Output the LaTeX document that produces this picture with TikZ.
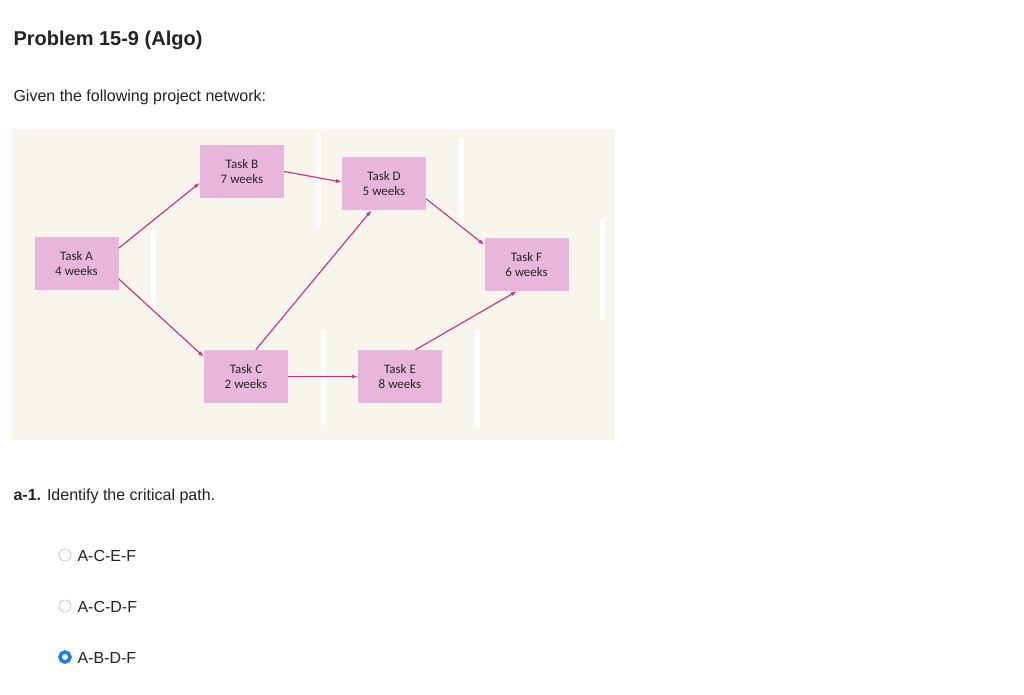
\documentclass[tikz,border=0pt]{standalone}
\usepackage{fontspec}
\setmainfont{Liberation Sans}
\newfontfamily\taskfont{Carlito}
\usetikzlibrary{arrows.meta}
\definecolor{cream}{HTML}{F8F6EC}
\definecolor{boxpink}{HTML}{E7B6DA}
\definecolor{arr}{HTML}{D6297A}
\definecolor{txt}{HTML}{222222}
\definecolor{blu}{HTML}{1A7FE8}
\tikzset{
  task/.style={fill=boxpink, minimum width=84pt, minimum height=53pt, align=center, font=\taskfont\fontsize{13}{15}\selectfont, text=black!85, inner sep=0pt},
  link/.style={draw=arr, line width=1.1pt, -{Latex[length=6pt,width=4pt]}},
  stripe/.style={fill=white, draw=none},
  opt/.style={font=\fontsize{16}{18}\selectfont, text=txt, anchor=west},
}
\begin{document}
\begin{tikzpicture}[x=1pt,y=-1pt]
\useasboundingbox (0,0) rectangle (1024,694);
\fill[white] (0,0) rectangle (1024,694);
\node[anchor=west, font=\bfseries\fontsize{20}{24}\selectfont, text=txt] (title) at (10,40) {Problem 15-9 (Algo)};
\node[anchor=west, font=\fontsize{16}{18}\selectfont, text=txt] (given) at (10,97) {Given the following project network:};
\fill[cream] (12,129) rectangle (615,440);
\fill[stripe] (151,230) rectangle (156,310);
\fill[stripe] (316,133) rectangle (321,228);
\fill[stripe] (459,138) rectangle (464,230);
\fill[stripe] (600,218) rectangle (605,320);
\fill[stripe] (321,330) rectangle (326,425);
\fill[stripe] (475,330) rectangle (480,428);
\node[task] (A) at (76.5,263.5) {Task A\\4 weeks};
\node[task] (B) at (242,171.5) {Task B\\7 weeks};
\node[task] (D) at (384,183.5) {Task D\\5 weeks};
\node[task] (F) at (526.5,264.5) {Task F\\6 weeks};
\node[task] (C) at (246,376.5) {Task C\\2 weeks};
\node[task] (E) at (400,376.5) {Task E\\8 weeks};
\draw[link] (A.20) -- (B.-165);
\draw[link] (A.-20) -- (C.155);
\draw[link] (B.east) -- (D.178);
\draw[link] (C.70) -- (D.-115);
\draw[link] (C.east) -- (E.west);
\draw[link] (D.-20) -- (F.155);
\draw[link] (E.60) -- (F.-110);
\node[anchor=west, font=\fontsize{16}{18}\selectfont, text=txt] (q) at (10,496) {\textbf{a-1.} Identify the critical path.};
\node[circle, draw=black!25, line width=0.6pt, minimum size=12pt, inner sep=0pt] (r1) at (65,555) {};
\node[opt] (o1) at (74,556) {A-C-E-F};
\node[circle, draw=black!25, line width=0.6pt, minimum size=12pt, inner sep=0pt] (r2) at (65,606) {};
\node[opt] (o2) at (74,607) {A-C-D-F};
\node[circle, draw=blu, line width=3.5pt, fill=white, minimum size=10pt, inner sep=0pt] (r3) at (65,657) {};
\node[opt] (o3) at (74,658) {A-B-D-F};
\end{tikzpicture}
\end{document}
